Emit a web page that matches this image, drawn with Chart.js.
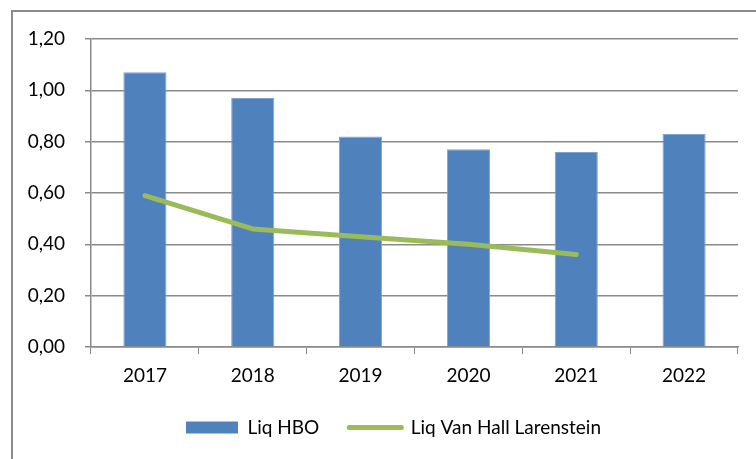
<!DOCTYPE html>
<html>
<head>
<meta charset="utf-8">
<script src="https://cdn.jsdelivr.net/npm/chart.js@4"></script>
<style>
  html, body { margin: 0; padding: 0; background: #fff; overflow: hidden; width: 756px; height: 459px; }
  #kader { position: absolute; left: 11px; top: 10px; width: 800px; height: 500px; border-left: 2px solid #8a8a8a; border-top: 2px solid #8a8a8a; }
  #grafiek { position: absolute; left: 0; top: 0; }
</style>
</head>
<body>
<div id="kader"></div>
<canvas id="grafiek" width="787" height="447"></canvas>
<script>
// jaren op de x-as
const jaren = ['2017', '2018', '2019', '2020', '2021', '2022'];
// liquiditeit HBO (staven)
const liqHBO = [1.07, 0.97, 0.82, 0.77, 0.76, 0.83];
// liquiditeit Van Hall Larenstein (lijn), 2022 ontbreekt
const liqVHL = [0.59, 0.46, 0.43, 0.40, 0.36, null];
// waarden op de y-as
const yTicks = [0, 0.2, 0.4, 0.6, 0.8, 1.0, 1.2];

const lettertype = { family: 'Lato, "Liberation Sans", sans-serif', size: 19 };
const grijs = '#8a8a8a';

const ctx = document.getElementById('grafiek');

// legenda iets naar rechts, gecentreerd onder het hele kader zoals in Excel
const legendaVerschuiven = {
  id: 'legendaVerschuiven',
  afterLayout(chart) {
    if (chart.legend) {
      chart.legend.left = 49;
    }
  }
};

new Chart(ctx, {
  type: 'bar',
  data: {
    labels: jaren,
    datasets: [
      {
        type: 'line',
        label: 'Liq Van Hall Larenstein',
        data: liqVHL,
        borderColor: '#9bbb59',
        backgroundColor: '#9bbb59',
        borderWidth: 5,
        borderCapStyle: 'round',
        borderJoinStyle: 'round',
        pointRadius: 0,
        tension: 0,
        spanGaps: false,
        order: 0
      },
      {
        label: 'Liq HBO',
        data: liqHBO,
        backgroundColor: '#4f81bd',
        borderColor: '#7fa3d1',
        borderWidth: 1,
        barPercentage: 0.4,
        categoryPercentage: 1,
        order: 1
      }
    ]
  },
  options: {
    responsive: false,
    animation: false,
    layout: { padding: { left: 0, top: 39, right: 49, bottom: 0 } },
    plugins: {
      tooltip: { enabled: false },
      legend: {
        position: 'bottom',
        labels: {
          font: lettertype,
          color: '#000',
          padding: 30,
          usePointStyle: true,
          pointStyleWidth: 52,
          boxHeight: 12,
          generateLabels: function(chart) {
            // staaf eerst, dan de lijn, zoals in het origineel
            return [1, 0].map(i => {
              const ds = chart.data.datasets[i];
              return {
                text: ds.label,
                datasetIndex: i,
                fillStyle: ds.backgroundColor,
                strokeStyle: ds.type === 'line' ? ds.borderColor : ds.backgroundColor,
                lineWidth: ds.type === 'line' ? 5 : 0,
                lineCap: 'round',
                pointStyle: ds.type === 'line' ? 'line' : 'rect',
                fontColor: '#000',
                hidden: false
              };
            });
          }
        }
      }
    },
    scales: {
      x: {
        afterFit: (scale) => { scale.height = 41; },
        grid: { display: true, drawOnChartArea: false, drawTicks: true, tickLength: 7, color: grijs, offset: true },
        border: { display: true, color: grijs, width: 1.5 },
        ticks: { font: lettertype, color: '#000', padding: 10 }
      },
      y: {
        min: 0,
        max: 1.2,
        afterFit: (scale) => { scale.width = 91; },
        afterBuildTicks: (scale) => { scale.ticks = yTicks.map(v => ({ value: v })); },
        grid: { color: grijs, lineWidth: 1.5, tickLength: 6, drawTicks: true },
        border: { display: true, color: grijs, width: 1.5 },
        ticks: {
          font: lettertype,
          color: '#000',
          padding: 20,
          callback: (v) => v.toFixed(2).replace('.', ',')
        }
      }
    }
  },
  plugins: [legendaVerschuiven]
});
</script>
</body>
</html>
